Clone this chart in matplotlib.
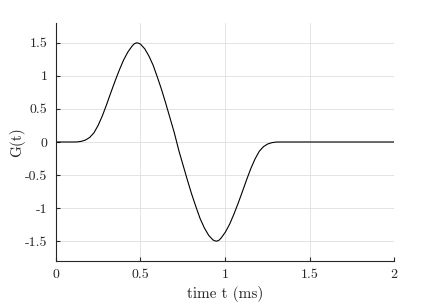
import matplotlib
matplotlib.use("Agg")
import matplotlib.pyplot as plt

# time axis (ms) and G(t) values
t = [0.0, 0.1, 0.125, 0.15, 0.175, 0.2, 0.225, 0.25, 0.275, 0.3,
     0.325, 0.35, 0.375, 0.4, 0.425, 0.45, 0.463, 0.476, 0.488, 0.5, 0.525, 0.55,
     0.575, 0.6, 0.625, 0.65, 0.675, 0.7, 0.714,
     0.728, 0.753, 0.778, 0.803, 0.828, 0.853, 0.878, 0.903, 0.928, 0.940, 0.952,
     0.965, 0.978, 1.003, 1.028, 1.053, 1.078, 1.103, 1.128, 1.153, 1.178, 1.203,
     1.228, 1.253, 1.278, 1.303, 1.328, 2.0]
G = [0.0, 0.0, 0.001, 0.01, 0.03, 0.07, 0.14, 0.255, 0.40, 0.57,
     0.75, 0.925, 1.09, 1.24, 1.36, 1.45, 1.485, 1.5, 1.495, 1.48, 1.41, 1.30,
     1.16, 0.98, 0.79, 0.58, 0.36, 0.14, 0.0,
     -0.14, -0.36, -0.58, -0.79, -0.98, -1.16, -1.30, -1.41, -1.48, -1.495, -1.5,
     -1.485, -1.45, -1.36, -1.24, -1.09, -0.925, -0.75, -0.57, -0.40, -0.255, -0.14,
     -0.07, -0.03, -0.01, -0.001, 0.0, 0.0]

xticks = [0, 0.5, 1, 1.5, 2]
xticklabels = ["0", "0.5", "1", "1.5", "2"]
yticks = [-1.5, -1, -0.5, 0, 0.5, 1, 1.5]
yticklabels = ["-1.5", "-1", "-0.5", "0", "0.5", "1", "1.5"]

plt.rcParams["font.family"] = ["cmr10", "DejaVu Serif"]
plt.rcParams["axes.unicode_minus"] = False
plt.rcParams["axes.formatter.use_mathtext"] = True

fig = plt.figure(figsize=(4.36, 3.05), dpi=100)
ax = fig.add_axes([0.1284, 0.1443, 0.7753, 0.7803])

ax.plot(t, G, color="black", linewidth=0.8)

ax.set_xlim(0, 2)
ax.set_ylim(-1.8, 1.8)
ax.set_xticks(xticks)
ax.set_xticklabels(xticklabels)
ax.set_yticks(yticks)
ax.set_yticklabels(yticklabels)

ax.grid(True, color="#e3e3e3", linewidth=0.7)
ax.set_axisbelow(True)

for side in ["top", "right"]:
    ax.spines[side].set_visible(False)
for side in ["left", "bottom"]:
    ax.spines[side].set_color("#262626")
    ax.spines[side].set_linewidth(0.8)

ax.tick_params(direction="in", length=3, width=0.8, color="#262626",
               labelsize=10, labelcolor="#262626", pad=6)

ax.set_xlabel("time t (ms)", fontsize=11, color="#262626", labelpad=3)
ax.set_ylabel("G(t)", fontsize=11, color="#262626", labelpad=0)

fig.savefig("out.png", dpi=100)
